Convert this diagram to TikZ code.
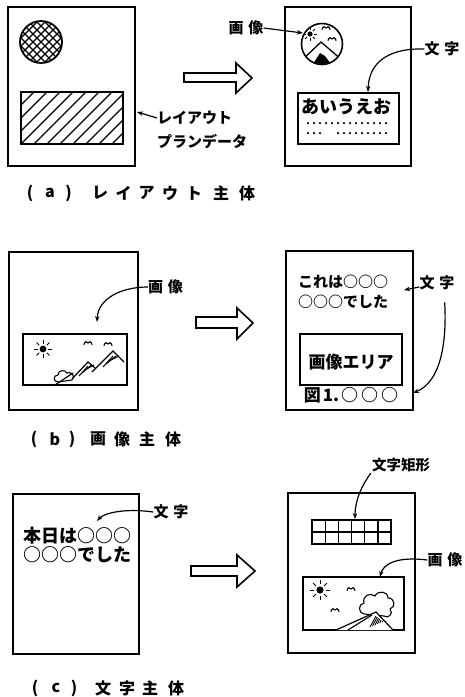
\documentclass[tikz,border=0pt]{standalone}
\usepackage{fontspec}
\newfontfamily\jp{Noto Sans CJK JP}
\usetikzlibrary{arrows.meta}

% small drawing helpers
\newcommand\seagull[2]{\draw[line width=1.1pt,line cap=round]
  (#1-4,#2+1.5) .. controls (#1-3,#2-2) and (#1-1,#2-2) .. (#1,#2)
  .. controls (#1+1,#2-2) and (#1+3,#2-2) .. (#1+4,#2+1.5);}
\newcommand\sunicon[3]{%
  \fill (#1,#2) circle[radius=#3pt];
  \foreach \a in {0,45,...,315}
    \draw[line width=1pt] (#1,#2) ++(\a:#3*1.6) -- ++(\a:#3*1.1);}

\begin{document}
\begin{tikzpicture}[x=1pt,y=-1pt,
  page/.style={line width=1.8pt},
  inbox/.style={line width=1.5pt},
  lead/.style={line width=1.2pt,-{Stealth[length=6pt,width=4.5pt]}},
  bigarrow/.style={line width=1.6pt,line join=miter},
  thin/.style={line width=1.1pt},
  lab/.style={font=\jp\bfseries\fontsize{15}{15}\selectfont,inner sep=0pt},
  captxt/.style={font=\jp\bfseries\fontsize{16}{16}\selectfont,inner sep=0pt},
  body/.style={font=\jp\bfseries\fontsize{15}{15}\selectfont,inner sep=0pt},
]
\useasboundingbox[fill=white] (0,0) rectangle (464,697);

% ---------------- (a) layout-driven ----------------
\draw[page] (8,7) rectangle (135,166);
% cross-hatched picture placeholder
\begin{scope}
  \clip (41,42) circle[radius=21pt];
  \foreach \k in {-6,...,6} {
    \draw[thin] (41+\k*8-30,42-30) -- (41+\k*8+30,42+30);
    \draw[thin] (41+\k*8-30,42+30) -- (41+\k*8+30,42-30);
  }
\end{scope}
\draw[line width=1.8pt] (41,42) circle[radius=21pt];
% hatched text placeholder
\begin{scope}
  \clip (21,92) rectangle (123,144);
  \foreach \k in {0,...,12}
    \draw[thin] (-31+\k*13,144) -- (21+\k*13,92);
\end{scope}
\draw[line width=1.6pt] (21,92) rectangle (123,144);
\node[lab,anchor=west] (lay1) at (157,118) {レイアウト};
\node[lab,anchor=west] (lay2) at (157,142) {プランデータ};
\coordinate (laytip) at (137,112);
\draw[lead] (lay1.west) -- (laytip);

\draw[bigarrow] (184,73) -- (236,73) -- (236,63) -- (252,78) -- (236,93)
  -- (236,82) -- (184,82) -- cycle;

\draw[page] (285,7) rectangle (411,166);
% round picture
\begin{scope}
  \clip (322,44) circle[radius=20pt];
  \sunicon{310}{34}{2.6}
  \seagull{326}{28}
  \seagull{332}{39}
  \draw[line width=1.3pt] (300,62) -- (321,42) -- (342,60);
  \fill (313,64) -- (320,53) -- (325,56) -- (331,64) -- cycle;
\end{scope}
\draw[line width=1.6pt] (322,44) circle[radius=20.5pt];
\node[lab] (img-a) at (246,28) {画\hspace{5pt}像};
\coordinate (img-a-tip) at (303,33);
\draw[lead] (img-a.east) -- (img-a-tip);

\draw[inbox] (298,93) rectangle (399,144);
\node[font=\jp\bfseries\fontsize{18}{18}\selectfont,inner sep=0pt] (aiueo) at (346,107) {あいうえお};
\foreach \k in {0,...,13} \fill (308+\k*6,123) circle[radius=1.25pt];
\foreach \k in {0,1,2} \fill (308+\k*6,133) circle[radius=1.25pt];
\foreach \k in {0,...,8} \fill (338+\k*6,133) circle[radius=1.25pt];
\node[lab] (txt-a) at (442,49) {文\hspace{5pt}字};
\coordinate (aiueo-tip) at (368,92);
\draw[lead] (txt-a.west) .. controls (395,48) and (369,58) .. (aiueo-tip);

\foreach \c/\x [count=\i] in {{(}/30,a/50,{)}/68.5,レ/100,イ/123.5,ア/146.5,ウ/170,ト/194,主/221,体/247}
  \node[captxt] (capa-\i) at (\x,193) {\c};

% ---------------- (b) picture-driven ----------------
\draw[page] (9,252) rectangle (138,410);
\draw[inbox] (23,334) rectangle (127,385);
\sunicon{43}{349}{3.4}
\seagull{88}{343}
\seagull{108}{344}
\filldraw[fill=white,thin] (58,382) .. controls (53,382) and (53,375) .. (58,375)
  .. controls (58,370) and (65,369) .. (67,373) .. controls (71,371) and (76,376) .. (72,380) -- cycle;
\draw[line width=1.2pt] (55,385) -- (73,373);
\draw[line width=1.2pt] (72,379) -- (88,362) -- (95,368);
\draw[line width=1.2pt] (92,372) -- (113,351) -- (124,362);
\foreach \d in {0,3,6} {
  \draw[line width=1pt] (79+\d,376-\d) -- (88+\d,366-\d*0.2);
  \draw[line width=1pt] (103+\d,367-\d) -- (113+\d,356);
}
\node[lab] (img-b) at (165.5,287) {画\hspace{5pt}像};
\coordinate (img-b-tip) at (97,322);
\draw[lead] (img-b.west) .. controls (122,287) and (98,298) .. (img-b-tip);

\draw[bigarrow] (196,317) -- (237,317) -- (237,308) -- (253,323) -- (237,339)
  -- (237,328) -- (196,328) -- cycle;

\draw[page] (286,251) rectangle (413,410);
\node[body,anchor=west] (kore) at (298,282) {これは○○○};
\node[body,anchor=west] (deshita-b) at (298,302) {○○○でした};
\draw[inbox] (300,334) rectangle (402,385);
\node[font=\jp\bfseries\fontsize{17}{17}\selectfont,inner sep=0pt] (area) at (351,362) {画像エリア};
\node[font=\jp\bfseries\fontsize{17}{17}\selectfont,inner sep=0pt] (fig) at (351,395)
  {図\hspace{2pt}1.\hspace{2pt}○\hspace{3pt}○\hspace{3pt}○};
\node[lab] (txt-b) at (437,283) {文\hspace{5pt}字};
\coordinate (kore-tip) at (404,290);
\draw[lead] ([yshift=-4pt]txt-b.west) -- (kore-tip);
\coordinate (fig-tip) at (413,393);
\draw[lead] ([xshift=-10pt,yshift=-12pt]txt-b.south east) .. controls (447,345) and (440,382) .. (fig-tip);

\foreach \c/\x [count=\i] in {{(}/34,b/55,{)}/72,画/98,像/122,主/147,体/173}
  \node[captxt] (capb-\i) at (\x,439) {\c};

% ---------------- (c) text-driven ----------------
\draw[page] (13,494) rectangle (139,654);
\node[font=\jp\bfseries\fontsize{18}{18}\selectfont,inner sep=0pt,anchor=west] (honjitsu) at (23,536) {本日は○○○};
\node[font=\jp\bfseries\fontsize{18}{18}\selectfont,inner sep=0pt,anchor=west] (deshita-c) at (23,555) {○○○でした};
\node[lab] (txt-c) at (171,512) {文\hspace{5pt}字};
\coordinate (hon-tip) at (97,521);
\draw[lead] (txt-c.west) .. controls (125,508) and (104,513) .. (hon-tip);

\draw[bigarrow] (191,566) -- (237,566) -- (237,555) -- (255,571) -- (237,587)
  -- (237,576) -- (191,576) -- cycle;

\draw[page] (288,493) rectangle (415,653);
% character cells
\draw[line width=1.4pt] (312,520) rectangle (391,544);
\draw[line width=1.3pt] (312,532) -- (391,532);
\foreach \k in {1,...,5}
  \draw[line width=1.3pt] (312+\k*13.17,520) -- (312+\k*13.17,544);
\node[font=\jp\bfseries\fontsize{14.5}{14.5}\selectfont,inner sep=0pt] (cells) at (401,465) {文字矩形};
\coordinate (cells-tip) at (355,519);
\draw[lead] ([xshift=-1pt,yshift=-1pt]cells.south west) .. controls (362,485) and (355,500) .. (cells-tip);

% landscape picture
\draw[inbox] (303,577) rectangle (404,630);
\sunicon{320}{590}{3.6}
\seagull{351}{589}
\seagull{335}{610}
\filldraw[fill=white,thin] (364,614) .. controls (358,613) and (358,604) .. (364,603)
  .. controls (362,596) and (370,592) .. (375,596) .. controls (378,590) and (388,591) .. (388,598)
  .. controls (395,598) and (396,607) .. (390,609) .. controls (394,614) and (388,619) .. (384,616) -- cycle;
\filldraw[fill=white,line width=1.2pt] (336,630) -- (376,612) -- (393,630);
\draw[line width=1.1pt] (348,630) -- (372,615);
\foreach \d in {0,2.5,...,12.5}
  \draw[line width=0.9pt] (370+\d,627-\d*0.4) -- (376+\d*0.5,616+\d*0.4);
\node[lab] (img-c) at (445,560) {画\hspace{5pt}像};
\coordinate (img-c-tip) at (380,577);
\draw[lead] (img-c.west) .. controls (395,556) and (383,565) .. (img-c-tip);

\foreach \c/\x [count=\i] in {{(}/35,c/56,{)}/74,文/103,字/127,主/150,体/176}
  \node[captxt] (capc-\i) at (\x,688) {\c};
\end{tikzpicture}
\end{document}
